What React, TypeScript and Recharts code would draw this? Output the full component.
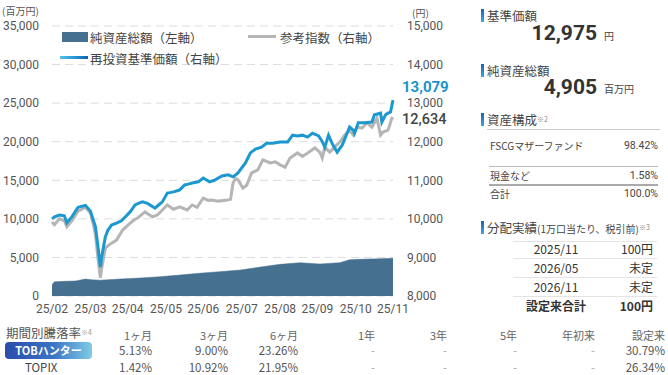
import React from "react";
import { ComposedChart, Area, Line, XAxis, YAxis, CartesianGrid } from "recharts";

// x = days since 2025-02-28, ticks at month ends
const monthTicks = [0, 31, 61, 92, 122, 153, 184, 214, 245, 275];
const monthLabels = ["25/02", "25/03", "25/04", "25/05", "25/06", "25/07", "25/08", "25/09", "25/10", "25/11"];
const leftTicks = [0, 5000, 10000, 15000, 20000, 25000, 30000, 35000];
const rightTicks = [8000, 9000, 10000, 11000, 12000, 13000, 14000, 15000];

// 純資産総額 (百万円, left axis)
const navDays = [0, 2, 10, 19, 27, 32, 39, 55, 71, 87, 103, 119, 135, 152, 168, 184, 200, 216, 232, 240, 248, 265, 275];
const navValues = [1450, 1850, 1900, 1950, 2200, 2100, 2050, 2200, 2330, 2500, 2720, 2950, 3150, 3370, 3750, 4100, 4320, 4150, 4320, 4700, 4760, 4830, 4905];

// 再投資基準価額 (円, right axis)
const reinvestDays = [0, 2, 6, 10, 12, 16, 21, 27, 31, 33, 35, 37, 39, 40, 43, 45, 48, 52, 56, 59, 63, 67, 71, 73, 77, 81, 83, 86, 89, 93, 95, 98, 101, 103, 107, 110, 113, 118, 122, 125, 127, 131, 137, 142, 146, 150, 156, 160, 164, 169, 173, 178, 184, 190, 194, 198, 202, 206, 210, 215, 218, 220, 223, 226, 228, 230, 234, 238, 240, 243, 244, 247, 252, 258, 260, 265, 266, 269, 271, 273, 275];
const reinvestValues = [10000, 10050, 10100, 10080, 9900, 10050, 10300, 10350, 10200, 10000, 9800, 9300, 8750, 9000, 9530, 9700, 9840, 9890, 9950, 10050, 10180, 10360, 10420, 10440, 10400, 10320, 10280, 10360, 10440, 10670, 10680, 10700, 10730, 10750, 10880, 10900, 10930, 10960, 11060, 11000, 10960, 11000, 11110, 11140, 11090, 11190, 11450, 11710, 11810, 11860, 11960, 11960, 11990, 11990, 12170, 12150, 12170, 12120, 12220, 12150, 12000, 11860, 12170, 11950, 11840, 11730, 11910, 12220, 12380, 12300, 12220, 12490, 12490, 12510, 12700, 12740, 12510, 12700, 12740, 12770, 13079];

// 参考指数 (円, right axis)
const indexDays = [0, 2, 6, 10, 12, 16, 21, 27, 31, 33, 35, 37, 39, 40, 43, 45, 48, 52, 57, 63, 67, 69, 75, 81, 85, 89, 93, 98, 103, 109, 113, 117, 122, 126, 129, 134, 140, 144, 146, 148, 150, 154, 157, 161, 166, 170, 176, 180, 184, 188, 192, 198, 202, 206, 212, 216, 218, 220, 224, 228, 232, 236, 240, 243, 246, 250, 254, 258, 262, 265, 267, 271, 274, 275];
const indexValues = [9920, 9850, 10000, 9950, 9800, 9950, 10200, 10300, 10150, 9900, 9600, 9000, 8470, 8700, 9240, 9300, 9370, 9450, 9710, 9890, 9990, 10020, 10180, 10050, 10100, 10230, 10360, 10250, 10310, 10230, 10360, 10300, 10540, 10480, 10490, 10460, 10480, 10510, 10930, 11050, 11010, 10800, 10870, 11190, 11270, 11530, 11450, 11480, 11400, 11340, 11580, 11710, 11620, 11700, 11840, 11730, 11580, 11860, 11730, 11860, 11990, 12170, 12300, 12170, 12380, 12350, 12490, 12380, 12610, 12170, 12250, 12300, 12600, 12634];

const navData = navDays.map((d, i) => ({ day: d, nav: navValues[i] }));
const reinvestData = reinvestDays.map((d, i) => ({ day: d, reinvest: reinvestValues[i] }));
const indexData = indexDays.map((d, i) => ({ day: d, index: indexValues[i] }));

const compRows = ["FSCGマザーファンド", "現金など", "合計"];
const compValues = ["98.42%", "1.58%", "100.0%"];

const distDates = ["2025/11", "2026/05", "2026/11", "設定来合計"];
const distAmounts = ["100円", "未定", "未定", "100円"];

const periods = ["1ヶ月", "3ヶ月", "6ヶ月", "1年", "3年", "5年", "年初来", "設定来"];
const fundReturns = ["5.13%", "9.00%", "23.26%", "-", "-", "-", "-", "30.79%"];
const topixReturns = ["1.42%", "10.92%", "21.95%", "-", "-", "-", "-", "26.34%"];

const FONT = 'Roboto, "Noto Sans CJK JP", sans-serif';
const JP = '"Noto Sans CJK JP", sans-serif';
const colRight = [152, 228, 298, 375, 447, 517, 595, 665];

function T({ x, y, size = 12, anchor = "start", color = "#444", bold = false, font = JP, children, style = {} }: any) {
  const tx = anchor === "end" ? "-100%" : anchor === "middle" ? "-50%" : "0";
  return (
    <div
      style={{
        position: "absolute",
        left: x,
        top: y - size * 0.6,
        fontSize: size,
        lineHeight: `${size * 1.2}px`,
        color,
        fontWeight: bold ? 700 : 400,
        fontFamily: font,
        whiteSpace: "nowrap",
        transform: `translateX(${tx})`,
        ...style,
      }}
    >
      {children}
    </div>
  );
}

function Bar({ y }: { y: number }) {
  return (
    <div style={{ position: "absolute", left: 481, top: y - 6, width: 3, height: 13, background: "linear-gradient(#1d5fb5, #39a9e0)" }} />
  );
}

function HLine({ x1, x2, y, h = 1, color = "#ddd" }: any) {
  return <div style={{ position: "absolute", left: x1, top: y, width: x2 - x1, height: h, background: color }} />;
}

const endLabel = (data: any[], color: string, dy: number, bold: boolean, size: number) => (props: any) => {
  if (props.index !== data.length - 1) return null;
  return (
    <text x={props.x + 9} y={props.y + dy} fill={color} fontSize={size} fontWeight={bold ? 700 : 500} fontFamily={FONT} dominantBaseline="middle">
      {Number(props.value).toLocaleString("en-US")}
    </text>
  );
};

function PriceChart() {
  return (
    <ComposedChart width={470} height={320} margin={{ top: 26, right: 0, left: 0, bottom: 0 }}>
      <CartesianGrid vertical={false} yAxisId="left" stroke="#dcdcdc" strokeDasharray="8 5" />
      <XAxis
        dataKey="day"
        type="number"
        domain={[0, 275]}
        ticks={monthTicks}
        tickFormatter={(v: number) => monthLabels[monthTicks.indexOf(v)]}
        axisLine={false}
        tickLine={false}
        tickSize={0}
        tickMargin={8}
        height={24}
        interval={0}
        tick={{ fill: "#555", fontSize: 12, fontFamily: FONT }}
      />
      <YAxis
        yAxisId="left"
        domain={[0, 35000]}
        ticks={leftTicks}
        tickFormatter={(v: number) => v.toLocaleString("en-US")}
        axisLine={false}
        tickLine={false}
        tickSize={0}
        tickMargin={13}
        width={52}
        interval={0}
        tick={{ fill: "#555", fontSize: 12, fontFamily: FONT }}
      />
      <YAxis
        yAxisId="right"
        orientation="right"
        domain={[8000, 15000]}
        ticks={rightTicks}
        tickFormatter={(v: number) => v.toLocaleString("en-US")}
        axisLine={false}
        tickLine={false}
        tickSize={0}
        tickMargin={14}
        width={77}
        interval={0}
        tick={{ fill: "#555", fontSize: 12, fontFamily: FONT }}
      />
      <Area
        yAxisId="left"
        data={navData}
        dataKey="nav"
        type="linear"
        fill="#46708f"
        fillOpacity={1}
        stroke="#46708f"
        strokeWidth={0.5}
        isAnimationActive={false}
      />
      <Line
        yAxisId="right"
        data={indexData}
        dataKey="index"
        type="linear"
        stroke="#b5b5b5"
        strokeWidth={3}
        dot={false}
        isAnimationActive={false}
        label={endLabel(indexData, "#444", 3, false, 14.5)}
      />
      <Line
        yAxisId="right"
        data={reinvestData}
        dataKey="reinvest"
        type="linear"
        stroke="#1b98cf"
        strokeWidth={3}
        dot={false}
        isAnimationActive={false}
        label={endLabel(reinvestData, "#1a93d0", -12, true, 15)}
      />
    </ComposedChart>
  );
}

export default function App() {
  return (
    <div style={{ position: "absolute", left: 0, top: 0, width: 668, height: 375, background: "#fff", overflow: "hidden", fontFamily: JP }}>
      <div style={{ position: "absolute", left: 0, top: 0 }}>
        <PriceChart />
      </div>

      {/* axis units */}
      <T x={2} y={11} size={10} color="#555">(百万円)</T>
      <T x={412} y={13} size={10} color="#555">(円)</T>

      {/* legend */}
      <div style={{ position: "absolute", left: 62, top: 32, width: 26, height: 10, background: "#46708f" }} />
      <T x={90} y={37} size={12.5} color="#444">純資産総額（左軸）</T>
      <div style={{ position: "absolute", left: 248, top: 35, width: 28, height: 3, background: "#b5b5b5" }} />
      <T x={280} y={37} size={12.5} color="#444">参考指数（右軸）</T>
      <div style={{ position: "absolute", left: 60, top: 56, width: 28, height: 3, background: "linear-gradient(90deg, #5bc0ec, #1f8fd0 60%, #0f5fae)" }} />
      <T x={90} y={58} size={12.5} color="#444">再投資基準価額（右軸）</T>

      {/* right panel */}
      <Bar y={15} />
      <T x={487} y={15} size={12.5}>基準価額</T>
      <T x={597} y={34} size={21} bold anchor="end" font={FONT} color="#333">12,975</T>
      <T x={604} y={36} size={10}>円</T>

      <Bar y={70} />
      <T x={487} y={70} size={12.5}>純資産総額</T>
      <T x={597} y={88} size={21} bold anchor="end" font={FONT} color="#333">4,905</T>
      <T x={604} y={89} size={10}>百万円</T>

      <Bar y={119} />
      <T x={487} y={119} size={12.5}>
        資産構成<span style={{ fontSize: 7, color: "#888", verticalAlign: "top" }}>※2</span>
      </T>
      <HLine x1={487} x2={660} y={129} color="#ccc" />
      <T x={490} y={146} size={10}>{compRows[0]}</T>
      <T x={658} y={146} size={10.5} anchor="end" font={FONT}>{compValues[0]}</T>
      <HLine x1={489} x2={658} y={166} color="#bbb" />
      <T x={490} y={176} size={10}>{compRows[1]}</T>
      <T x={658} y={176} size={10.5} anchor="end" font={FONT}>{compValues[1]}</T>
      <HLine x1={489} x2={658} y={184} h={2} color="#aaa" />
      <T x={490} y={194} size={10}>{compRows[2]}</T>
      <T x={658} y={194} size={10.5} anchor="end" font={FONT}>{compValues[2]}</T>

      <Bar y={227} />
      <T x={487} y={227} size={12.5}>
        分配実績<span style={{ fontSize: 10 }}>(1万口当たり、税引前)</span>
        <span style={{ fontSize: 7, color: "#888", verticalAlign: "top" }}>※3</span>
      </T>
      {[241, 258, 277, 296].map((y) => (
        <HLine key={y} x1={513} x2={657} y={y} color="#e3e3e3" />
      ))}
      {distDates.map((d, i) => (
        <React.Fragment key={d}>
          <T x={556} y={249 + i * 19} size={12} anchor="middle" bold={i === 3} color="#333">{d}</T>
          <T x={653} y={249 + i * 19} size={12} anchor="end" bold={i === 3} color="#333">{distAmounts[i]}</T>
        </React.Fragment>
      ))}

      {/* bottom returns table */}
      <T x={6} y={332} size={12.5} color="#555">
        期間別騰落率<span style={{ fontSize: 7, color: "#999", verticalAlign: "top" }}>※4</span>
      </T>
      {periods.map((p, i) => (
        <T key={p} x={colRight[i]} y={336} size={11} anchor="end" color="#666">{p}</T>
      ))}
      <div
        style={{
          position: "absolute",
          left: 5,
          top: 342,
          width: 87,
          height: 17,
          borderRadius: 4,
          background: "linear-gradient(90deg, #2b4cab, #3a74c4 55%, #7fcbe6)",
          color: "#fff",
          fontSize: 11,
          fontWeight: 700,
          lineHeight: "17px",
          textAlign: "center",
        }}
      >
        TOBハンター
      </div>
      {fundReturns.map((v, i) => (
        <T key={"f" + i} x={colRight[i]} y={351} size={11.5} anchor="end" color={v === "-" ? "#aaa" : "#555"}>{v}</T>
      ))}
      <T x={25} y={368} size={11.5} color="#444">TOPIX</T>
      {topixReturns.map((v, i) => (
        <T key={"t" + i} x={colRight[i]} y={368} size={11.5} anchor="end" color={v === "-" ? "#aaa" : "#555"}>{v}</T>
      ))}
    </div>
  );
}
